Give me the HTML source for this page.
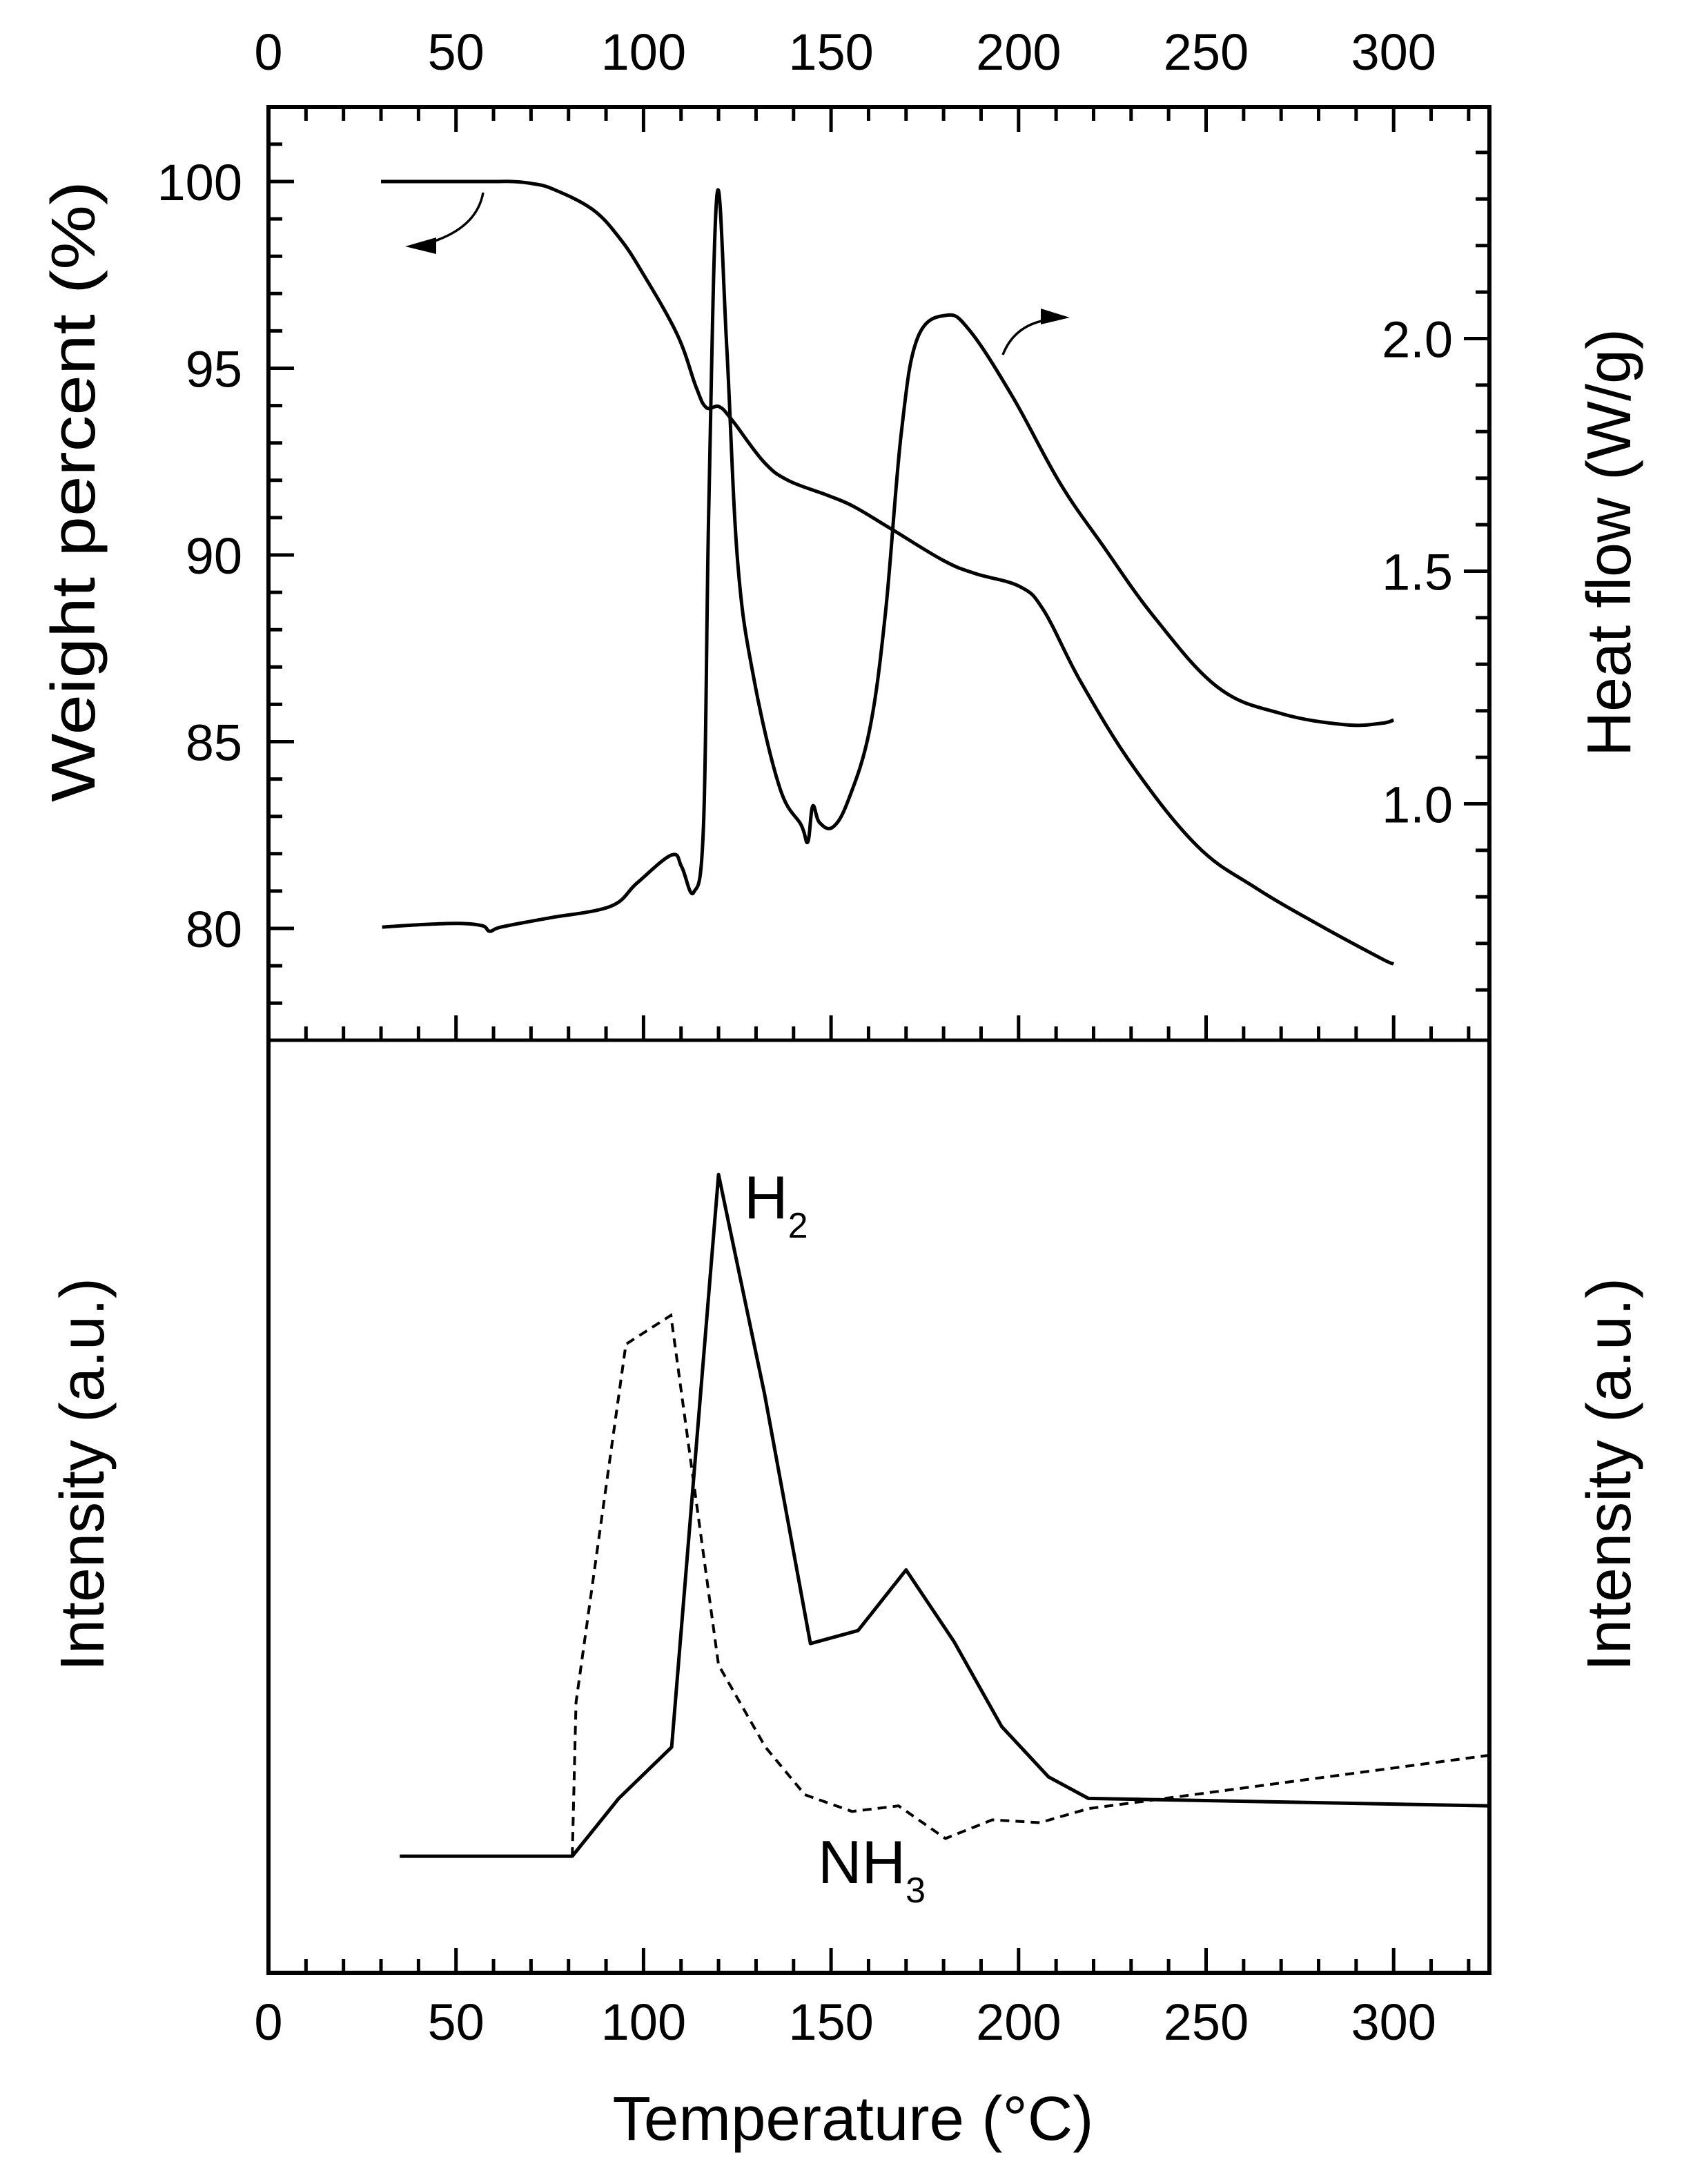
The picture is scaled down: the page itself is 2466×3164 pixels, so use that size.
<!DOCTYPE html>
<html><head><meta charset="utf-8"><style>
html,body{margin:0;padding:0;background:#fff}
svg{display:block}
text{font-family:"Liberation Sans",Arial,sans-serif;fill:#000}
</style></head><body>
<svg id="chart" width="2466" height="3164" viewBox="0 0 2466 3164" xmlns="http://www.w3.org/2000/svg">
<g id="axes"></g>
<g id="series"></g>
<g id="labels">
<text transform="translate(137,712) rotate(-90)" text-anchor="middle" font-size="90" textLength="900" lengthAdjust="spacingAndGlyphs">Weight percent (%)</text>
<text transform="translate(2362,786) rotate(-90)" text-anchor="middle" font-size="90" textLength="620" lengthAdjust="spacingAndGlyphs">Heat flow (W/g)</text>
<text transform="translate(150,2136) rotate(-90)" text-anchor="middle" font-size="90" textLength="570" lengthAdjust="spacingAndGlyphs">Intensity (a.u.)</text>
<text transform="translate(2362,2136) rotate(-90)" text-anchor="middle" font-size="90" textLength="570" lengthAdjust="spacingAndGlyphs">Intensity (a.u.)</text>
<text x="1236" y="3100" text-anchor="middle" font-size="90" textLength="697" lengthAdjust="spacingAndGlyphs">Temperature (°C)</text>
<text x="1078" y="1765" font-size="88">H<tspan font-size="52" dy="28">2</tspan></text>
<text x="1185" y="2728" font-size="88">NH<tspan font-size="52" dy="28">3</tspan></text>
</g>
</svg>
<script>
// ---- data ----
const tgaTemp = [30,40,50,60,65,70,75.8,86.3,93.5,99.7,109,114,116.7,120.2,123.7,132,138.5,149,156,166,180,188.5,200.4,206.8,216.6,230.8,247.7,263,280,296.6,300];
const tgaWeight = [100.0,100.0,100.0,100.0,100.0,99.95,99.8,99.26,98.5,97.56,95.9,94.5,93.95,93.97,93.6,92.5,92.0,91.6,91.3,90.7,89.85,89.5,89.15,88.5,86.6,84.3,82.2,81.1,80.1,79.2,79.05];
const dscTemp = [30.3,40,50.6,57,59,62,73,75.8,91.3,98.3,107.5,110.2,113.4,116,117.4,119.6,122.2,125.1,129.4,136.3,142,143.8,145.1,146.9,150.5,154.7,160.3,164.5,168.7,173,180.7,187,198.4,211,222.3,236.3,253.2,270,287,296.7,300];
const dscHeat = [0.735,0.74,0.743,0.738,0.726,0.735,0.752,0.756,0.78,0.83,0.89,0.864,0.81,0.955,1.636,2.31,1.98,1.52,1.27,1.035,0.955,0.918,0.995,0.96,0.95,1.01,1.16,1.41,1.795,2.0,2.05,2.017,1.875,1.69,1.557,1.40,1.25,1.194,1.17,1.173,1.18];
const h2Temp = [35,81,93.4,107.5,120,132.3,144.5,157.2,170,182.8,195.5,208,218.6,325];
const h2Int = [12.5,12.5,18.7,24.2,85.6,62,35.3,36.7,43.2,35.5,26.4,21,18.7,17.9];
const nh3Temp = [81,82,95.3,107.3,120,132.5,143,155.6,168,180.5,193,205.7,218.6,325];
const nh3Int = [12.5,29,67.4,70.5,33,24.2,19.1,17.3,17.9,14.4,16.4,16.1,17.6,23.3];
const xTicks = [0,50,100,150,200,250,300];
const weightTicks = [80,85,90,95,100];
const heatTicks = ["1.0","1.5","2.0"];

// ---- geometry ----
const L=389, R=2158, T=155, M=1507, B=2858;
const X0=0, X1=(R-L)/5.434;
const xs = t => L + (t-X0)/(X1-X0)*(R-L);
const yW = w => 263 + (100-w)*54.1;
const yH = h => 490.5 + (2.0-h)*674;
const yI = v => B - v*13.51;
const NS="http://www.w3.org/2000/svg";
const axes=document.getElementById('axes'), series=document.getElementById('series');
function mk(tag, attrs, parent){const e=document.createElementNS(NS,tag);for(const k in attrs)e.setAttribute(k,attrs[k]);parent.appendChild(e);return e;}

let fr = mk('rect',{x:L,y:T,width:R-L,height:B-T,fill:'none',stroke:'#000','stroke-width':6},axes);


let dv = mk('line',{x1:L,x2:R,y1:M,y2:M,stroke:'#000','stroke-width':5},axes);



for(let v=10; v<=320; v+=10){
  const maj = v%50===0, len = maj?36:20, x=xs(v);
  let a=mk('line',{x1:x,x2:x,y1:T,y2:T+len,stroke:'#000','stroke-width':5},axes);
  
  
  let b=mk('line',{x1:x,x2:x,y1:M,y2:M-len,stroke:'#000','stroke-width':5},axes);
  
  
  let c=mk('line',{x1:x,x2:x,y1:B,y2:B-len,stroke:'#000','stroke-width':5},axes);
  
  
}
xTicks.forEach(v=>{
  let t1=mk('text',{x:xs(v),y:101,'text-anchor':'middle','font-size':74},axes);t1.textContent=v;
  
  
  let t2=mk('text',{x:xs(v),y:2955,'text-anchor':'middle','font-size':74},axes);t2.textContent=v;
  
  
});
for(let w=78; w<=101; w++){
  const maj=w%5===0, y=yW(w);
  let a=mk('line',{x1:L,x2:L+(maj?37:20),y1:y,y2:y,stroke:'#000','stroke-width':5},axes);
  
  
}
weightTicks.forEach(w=>{
  let t=mk('text',{x:351,y:yW(w)+27,'text-anchor':'end','font-size':74},axes);t.textContent=w;
  
  
});
for(let i=6;i<=24;i++){
  const h=i/10, maj=i%5===0, y=yH(h);
  let a=mk('line',{x1:R,x2:R-(maj?37:20),y1:y,y2:y,stroke:'#000','stroke-width':5},axes);
  
  
}
heatTicks.forEach(h=>{
  let t=mk('text',{x:2105,y:yH(parseFloat(h))+27,'text-anchor':'end','font-size':74},axes);t.textContent=h;
  
  
});

function smooth(px,py){
  let d=`M${px[0]},${py[0]}`;
  for(let i=0;i<px.length-1;i++){
    const x0=px[Math.max(0,i-1)],y0=py[Math.max(0,i-1)],x1=px[i],y1=py[i],x2=px[i+1],y2=py[i+1],x3=px[Math.min(px.length-1,i+2)],y3=py[Math.min(px.length-1,i+2)];
    const k=0.18;
    d+=` C${x1+(x2-x0)*k},${y1+(y2-y0)*k} ${x2-(x3-x1)*k},${y2-(y3-y1)*k} ${x2},${y2}`;
  }
  return d;
}
let tga=mk('path',{d:smooth(tgaTemp.map(xs),tgaWeight.map(yW)),fill:'none',stroke:'#000','stroke-width':5,'stroke-linejoin':'round'},series);


let dsc=mk('path',{d:smooth(dscTemp.map(xs),dscHeat.map(yH)),fill:'none',stroke:'#000','stroke-width':5,'stroke-linejoin':'round'},series);


let h2=mk('polyline',{points:h2Temp.map((t,i)=>xs(t)+','+yI(h2Int[i])).join(' '),fill:'none',stroke:'#000','stroke-width':5,'stroke-linejoin':'round'},series);


let nh3=mk('polyline',{points:nh3Temp.map((t,i)=>xs(t)+','+yI(nh3Int[i])).join(' '),fill:'none',stroke:'#000','stroke-width':4,'stroke-dasharray':'13 9'},series);



let a1=mk('path',{d:'M700,279 Q690,335 610,355',fill:'none',stroke:'#000','stroke-width':3.5},series);


let a1h=mk('polygon',{points:'587,357 632,344 632,368',fill:'#000'},series);


let a2=mk('path',{d:'M1453,514 Q1470,470 1520,463',fill:'none',stroke:'#000','stroke-width':3.5},series);


let a2h=mk('polygon',{points:'1550,460 1508,447 1508,470',fill:'#000'},series);


</script>
</body></html>
